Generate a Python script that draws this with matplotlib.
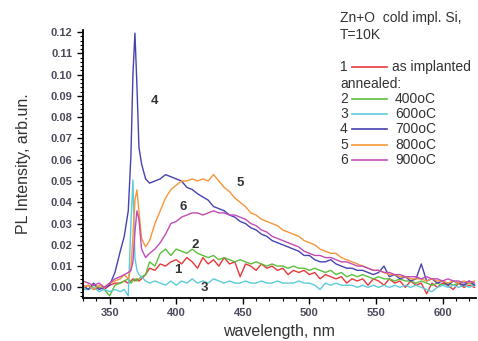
import numpy as np
import matplotlib.pyplot as plt
from matplotlib.ticker import MultipleLocator
from matplotlib.lines import Line2D

plt.rcParams['font.family'] = ['Liberation Sans', 'DejaVu Sans']

# wavelength grid, nm (denser around the excitonic peak)
wl = [330, 334, 338, 342, 346, 350, 354, 358, 361, 364, 366, 367.5, 369, 370.5, 372, 374, 377,
      380, 384, 388, 392, 396, 400, 404, 408, 412, 416, 420, 424, 428, 432, 436, 440, 444, 448,
      452, 456, 460, 464, 468, 472, 476, 480, 484, 488, 492, 496, 500, 504, 508, 512, 516, 520,
      524, 528, 532, 536, 540, 544, 548, 552, 556, 560, 564, 568, 572, 576, 580, 584, 588, 592,
      596, 600, 604, 608, 612, 616, 620, 624]

# 1 - as implanted
pl_1 = [0.000, 0.001, -0.001, 0.000, -0.001, 0.001, 0.002, 0.002, 0.003, 0.002, 0.003, 0.004, 0.003,
        0.004, 0.003, 0.004, 0.006,
        0.009, 0.008, 0.011, 0.010, 0.012, 0.013, 0.011, 0.014, 0.012, 0.009, 0.014, 0.011, 0.013,
        0.010, 0.014, 0.011, 0.012, 0.005, 0.011, 0.010, 0.008, 0.011, 0.009, 0.010, 0.008, 0.009,
        0.006, 0.008, 0.007, 0.008, 0.006, 0.007, 0.004, 0.006, 0.005, 0.004, 0.005, 0.002, 0.004,
        0.003, 0.004, 0.001, 0.004, 0.003, 0.001, 0.004, 0.002, 0.003, 0.000, 0.003, 0.001, 0.002,
        -0.003, 0.002, 0.000, 0.002, 0.001, -0.001, 0.002, 0.000, 0.001, 0.000]
# 2 - 400oC
pl_2 = [0.000, -0.001, 0.001, 0.000, -0.001, -0.004, 0.001, 0.002, 0.003, 0.004, 0.002, 0.003, 0.004,
        0.003, 0.004, 0.005, 0.006,
        0.012, 0.010, 0.016, 0.018, 0.015, 0.018, 0.017, 0.016, 0.018, 0.016, 0.015, 0.014, 0.015,
        0.013, 0.014, 0.013, 0.012, 0.013, 0.012, 0.011, 0.012, 0.011, 0.010, 0.011, 0.010, 0.010,
        0.009, 0.010, 0.009, 0.009, 0.008, 0.009, 0.008, 0.007, 0.008, 0.006, 0.007, 0.005, 0.006,
        0.005, 0.006, 0.005, 0.004, 0.005, 0.004, 0.004, 0.003, 0.004, 0.003, 0.003, 0.002, 0.003,
        0.002, 0.001, 0.002, 0.001, 0.002, 0.001, 0.002, 0.001, 0.002, 0.001]
# 3 - 600oC
pl_3 = [-0.001, -0.001, 0.000, -0.002, -0.001, -0.002, -0.001, -0.002, -0.001, -0.004, 0.030, 0.0505,
        0.014, 0.008, 0.006, 0.005, 0.003,
        0.002, 0.003, 0.002, 0.001, 0.003, 0.001, 0.003, 0.002, 0.004, 0.002, 0.003, 0.002, 0.004,
        0.003, 0.002, 0.003, 0.002, 0.002, 0.003, 0.002, 0.002, 0.003, 0.002, 0.002, 0.003, 0.002,
        0.002, 0.002, 0.003, 0.002, 0.002, 0.001, -0.001, 0.002, 0.001, 0.002, 0.001, 0.001, 0.001,
        0.000, 0.001, 0.000, 0.001, 0.000, 0.001, 0.000, 0.001, 0.000, 0.001, 0.000, 0.001, 0.000,
        -0.001, -0.002, 0.000, 0.001, 0.000, 0.001, 0.000, 0.001, 0.000, 0.001]
# 4 - 700oC
pl_4 = [0.001, -0.001, 0.002, -0.001, 0.000, 0.001, 0.007, 0.017, 0.024, 0.036, 0.062, 0.100, 0.1195,
        0.095, 0.066, 0.058, 0.051,
        0.049, 0.050, 0.051, 0.053, 0.052, 0.051, 0.050, 0.047, 0.046, 0.044, 0.0425, 0.041, 0.038,
        0.037, 0.036, 0.034, 0.033, 0.031, 0.030, 0.028, 0.027, 0.025, 0.024, 0.022, 0.021, 0.020,
        0.019, 0.018, 0.017, 0.015, 0.015, 0.013, 0.012, 0.012, 0.013, 0.011, 0.010, 0.009, 0.009,
        0.008, 0.008, 0.007, 0.006, 0.007, 0.010, 0.005, 0.006, 0.004, 0.005, 0.003, 0.004, 0.011,
        0.003, 0.004, 0.002, 0.003, 0.001, 0.003, 0.002, 0.001, 0.003, 0.001]
# 5 - 800oC
pl_5 = [0.000, 0.001, -0.001, 0.001, 0.000, 0.002, 0.003, 0.004, 0.006, 0.004, 0.009, 0.024, 0.041,
        0.0458, 0.036, 0.023, 0.019,
        0.022, 0.030, 0.036, 0.042, 0.046, 0.048, 0.050, 0.050, 0.051, 0.050, 0.051, 0.050, 0.053,
        0.050, 0.047, 0.045, 0.042, 0.040, 0.038, 0.035, 0.034, 0.032, 0.031, 0.030, 0.029, 0.027,
        0.026, 0.025, 0.024, 0.022, 0.021, 0.020, 0.018, 0.017, 0.016, 0.016, 0.014, 0.013, 0.012,
        0.011, 0.010, 0.009, 0.008, 0.008, 0.007, 0.006, 0.006, 0.005, 0.005, 0.004, 0.004, 0.004,
        0.003, 0.004, 0.003, 0.003, 0.002, 0.003, 0.002, 0.003, 0.002, 0.003]
# 6 - 900oC
pl_6 = [0.003, 0.002, 0.001, 0.002, 0.000, 0.002, 0.004, 0.005, 0.006, 0.007, 0.008, 0.012, 0.026,
        0.036, 0.032, 0.018, 0.014,
        0.016, 0.018, 0.021, 0.025, 0.030, 0.031, 0.033, 0.034, 0.035, 0.035, 0.034, 0.035, 0.036,
        0.035, 0.035, 0.034, 0.034, 0.033, 0.032, 0.030, 0.029, 0.027, 0.026, 0.024, 0.023, 0.022,
        0.021, 0.020, 0.019, 0.017, 0.016, 0.015, 0.015, 0.014, 0.014, 0.013, 0.012, 0.012, 0.011,
        0.010, 0.010, 0.009, 0.008, 0.008, 0.007, 0.007, 0.006, 0.006, 0.005, 0.005, 0.005, 0.004,
        0.005, 0.004, 0.004, 0.003, 0.004, 0.003, 0.003, 0.002, 0.003, 0.002]

series = [pl_1, pl_2, pl_3, pl_4, pl_5, pl_6]
numbers = ['1', '2', '3', '4', '5', '6']
conditions = ['as implanted', '400oC', '600oC', '700oC', '800oC', '900oC']
colors = ['#e8383d', '#5cbf3c', '#5ccbdc', '#4642b0', '#f7953a', '#c24bb6']

# where the curve numbers sit, (wavelength, intensity)
label_pos = [(401, 0.0082), (414, 0.020), (421.5, -0.0003),
             (384, 0.0876), (447.8, 0.049), (405, 0.0378)]

fig = plt.figure(figsize=(4.78, 3.41), dpi=100)
ax = fig.add_axes([0.1736, 0.1261, 0.822, 0.786])

for y, c in zip(series, colors):
    ax.plot(wl, y, color=c, lw=1.0)

for n, (px, py) in zip(numbers, label_pos):
    ax.text(px, py, n, fontsize=9.5, fontweight='bold', color='#333333',
            ha='center', va='center')

ax.set_xlim(330, 625)
ax.set_ylim(-0.005, 0.121)
ax.xaxis.set_major_locator(MultipleLocator(50))
ax.xaxis.set_minor_locator(MultipleLocator(10))
ax.yaxis.set_major_locator(MultipleLocator(0.01))
ax.yaxis.set_minor_locator(MultipleLocator(0.002))
ax.yaxis.set_major_formatter(plt.FormatStrFormatter('%.2f'))

for s in ['top', 'right']:
    ax.spines[s].set_visible(False)
for s in ['left', 'bottom']:
    ax.spines[s].set_linewidth(1.3)

ax.tick_params(which='major', direction='out', length=4, width=1.0, labelsize=8,
               labelcolor='#4a4a5a')
ax.tick_params(which='minor', direction='out', length=2, width=0.8)
for lab in ax.get_xticklabels() + ax.get_yticklabels():
    lab.set_fontweight('bold')

ax.set_xlabel('wavelength, nm', fontsize=11.5, color='#333333', labelpad=4)
ax.set_ylabel('PL Intensity, arb.un.', fontsize=11.5, color='#333333', labelpad=14)

# legend block drawn in figure pixels
W, H = 478, 341


def fx(px):
    return px / W


def fy(py):
    return 1 - py / H


txt = dict(fontsize=10, color='#333333', va='center')
fig.text(fx(340), fy(18), 'Zn+O  cold impl. Si,', **txt)
fig.text(fx(340), fy(35), 'T=10K', **txt)
fig.text(fx(340), fy(84), 'annealed:', **txt)

rows_y = [67, 99, 114, 129, 145, 160]
for i, (n, cond, c, ry) in enumerate(zip(numbers, conditions, colors, rows_y)):
    fig.text(fx(340), fy(ry), n, **txt)
    fig.add_artist(Line2D([fx(352), fx(387)], [fy(ry), fy(ry)], color=c, lw=1.2,
                          transform=fig.transFigure))
    fig.text(fx(392 if i == 0 else 395), fy(ry), cond, **txt)

fig.savefig('out.png', dpi=100)
